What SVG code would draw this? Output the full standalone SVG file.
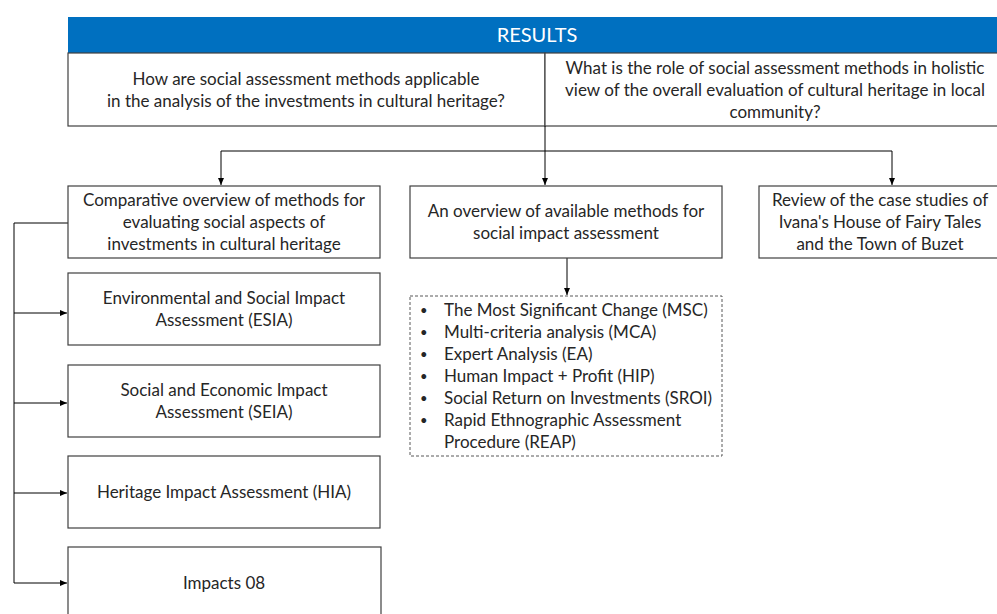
<svg xmlns="http://www.w3.org/2000/svg" width="997" height="614" viewBox="0 0 997 614">
<style>
.box{fill:#fff;stroke:#404040;stroke-width:1.2}
.dash{fill:#fff;stroke:#595959;stroke-width:1;stroke-dasharray:3 2}
.t{font-family:Lato,"Open Sans",sans-serif;font-size:17px;fill:#262626;text-anchor:middle}
.l{font-family:Lato,"Open Sans",sans-serif;font-size:17px;fill:#262626}
.b{font-family:Lato,"Open Sans",sans-serif;font-size:13px;fill:#262626}
.c{fill:none;stroke:#000;stroke-width:1}
</style>
<defs>
<marker id="ah" markerWidth="8" markerHeight="8" refX="7" refY="4" orient="auto" markerUnits="userSpaceOnUse">
<path d="M0,1 L7,4 L0,7 Z" fill="#000"/>
</marker>
</defs>
<rect width="997" height="614" fill="#fff"/>
<g id="header">
<rect x="68" y="17" width="929" height="36" fill="#0070C0"/>
<text x="537" y="42" font-family="Lato,'Open Sans',sans-serif" font-size="20" fill="#fff" text-anchor="middle">RESULTS</text>
</g>
<g id="q1">
<rect class="box" x="68" y="53" width="477" height="73"/>
<text class="t" x="306" y="85">How are social assessment methods applicable</text>
<text class="t" x="306" y="107">in the analysis of the investments in cultural heritage?</text>
</g>
<g id="q2">
<rect class="box" x="545" y="53" width="453" height="73"/>
<text class="t" x="775" y="74">What is the role of social assessment methods in holistic</text>
<text class="t" x="775" y="96">view of the overall evaluation of cultural heritage in local</text>
<text class="t" x="775" y="118">community?</text>
</g>
<g id="connectors">
<path class="c" d="M545,126 V185" marker-end="url(#ah)"/>
<path class="c" d="M221,151 H892"/>
<path class="c" d="M221,151 V185" marker-end="url(#ah)"/>
<path class="c" d="M892,151 V185" marker-end="url(#ah)"/>
<path class="c" d="M567,258 V295" marker-end="url(#ah)"/>
<path class="c" d="M68,223 H14 V583"/>
<path class="c" d="M14,313 H67" marker-end="url(#ah)"/>
<path class="c" d="M14,403 H67" marker-end="url(#ah)"/>
<path class="c" d="M14,493 H67" marker-end="url(#ah)"/>
<path class="c" d="M14,583 H67" marker-end="url(#ah)"/>
</g>
<g id="comparative">
<rect class="box" x="68" y="186" width="312" height="72"/>
<text class="t" x="224" y="206">Comparative overview of methods for</text>
<text class="t" x="224" y="228">evaluating social aspects of</text>
<text class="t" x="224" y="250">investments in cultural heritage</text>
</g>
<g id="overview">
<rect class="box" x="410" y="186" width="312" height="72"/>
<text class="t" x="566" y="217">An overview of available methods for</text>
<text class="t" x="566" y="239">social impact assessment</text>
</g>
<g id="review">
<rect class="box" x="759" y="186" width="239" height="72"/>
<text class="t" x="880" y="206">Review of the case studies of</text>
<text class="t" x="880" y="228">Ivana's House of Fairy Tales</text>
<text class="t" x="880" y="250">and the Town of Buzet</text>
</g>
<g id="methods">
<rect class="dash" x="410" y="296" width="312" height="160"/>
<g class="b">
<text x="420" y="315">•</text>
<text x="420" y="337">•</text>
<text x="420" y="359">•</text>
<text x="420" y="381">•</text>
<text x="420" y="403">•</text>
<text x="420" y="425">•</text>
</g>
<g class="l">
<text x="444" y="316">The Most Significant Change (MSC)</text>
<text x="444" y="338">Multi-criteria analysis (MCA)</text>
<text x="444" y="360">Expert Analysis (EA)</text>
<text x="444" y="382">Human Impact + Profit (HIP)</text>
<text x="444" y="404">Social Return on Investments (SROI)</text>
<text x="444" y="426">Rapid Ethnographic Assessment</text>
<text x="444" y="448">Procedure (REAP)</text>
</g>
</g>
<g id="esia">
<rect class="box" x="68" y="273" width="312" height="72"/>
<text class="t" x="224" y="304">Environmental and Social Impact</text>
<text class="t" x="224" y="326">Assessment (ESIA)</text>
</g>
<g id="seia">
<rect class="box" x="68" y="365" width="312" height="72"/>
<text class="t" x="224" y="396">Social and Economic Impact</text>
<text class="t" x="224" y="418">Assessment (SEIA)</text>
</g>
<g id="hia">
<rect class="box" x="68" y="456" width="312" height="72"/>
<text class="t" x="224" y="498">Heritage Impact Assessment (HIA)</text>
</g>
<g id="impacts08">
<rect class="box" x="68" y="547" width="313" height="72"/>
<text class="t" x="224" y="589">Impacts 08</text>
</g>
</svg>
